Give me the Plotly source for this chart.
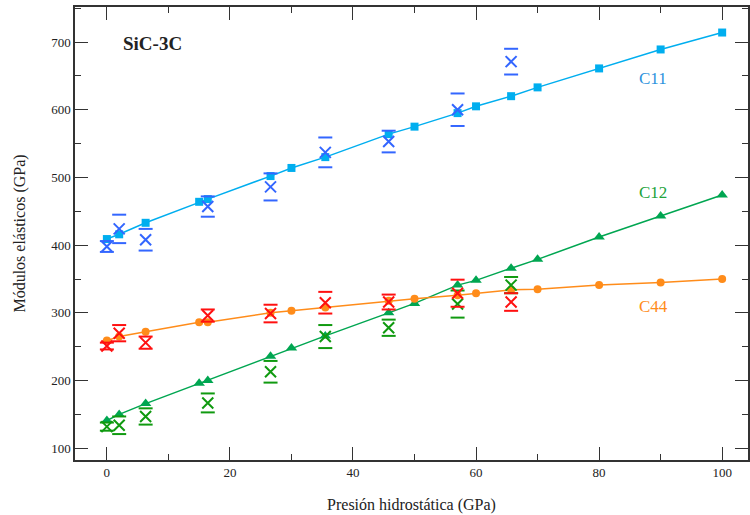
import plotly.graph_objects as go

# ---- data ----
p_calc = [0, 2, 6.3, 15, 16.4, 26.6, 30, 35.5, 45.8, 50, 57, 60, 65.7, 70, 80, 90, 100]
c11_calc = [409, 416, 433, 464, 468, 502, 514, 530, 564, 575, 595, 605, 620, 633, 661, 689, 714]
c12_calc = [141, 150, 166, 196, 200, 236, 248, 266, 300, 314, 341, 348, 366, 379, 412, 443, 474]
c44_calc = [259, 265, 272, 286, 286, 300, 303, 308, 318, 321, 326, 329, 334, 335, 341, 345, 350]

p_exp = [0, 2, 6.3, 16.4, 26.6, 35.5, 45.8, 57, 65.7]
c11_exp = [398, 424, 408, 457, 486, 537, 553, 600, 671]
c11_err = [8, 21, 16, 15, 20, 22, 16, 24, 19]
c12_exp = [132, 134, 147, 167, 213, 265, 278, 313, 341]
c12_err = [6, 13, 12, 14, 16, 17, 12, 20, 12]
c44_exp = [251, 270, 256, 296, 299, 315, 316, 329, 316]
c44_err = [5, 12, 9, 9, 13, 16, 11, 20, 13]

labels = ["C11", "C12", "C44"]

FONT = "Liberation Serif"

fig = go.Figure()

calc_specs = [
    (c11_calc, "#00AEEF", "square", 8),
    (c12_calc, "#00A651", "triangle-up", 10),
    (c44_calc, "#FF8C1A", "circle", 8),
]
for ys, col, sym, sz in calc_specs:
    fig.add_trace(go.Scatter(x=p_calc, y=ys, mode="lines+markers",
                             line=dict(color=col, width=1.5),
                             marker=dict(symbol=sym, size=sz, color=col),
                             showlegend=False, hoverinfo="skip"))

exp_specs = [
    (c11_exp, c11_err, "#3366FF"),
    (c12_exp, c12_err, "#109A10"),
    (c44_exp, c44_err, "#FF1010"),
]
for ys, errs, col in exp_specs:
    lo = [y - e for y, e in zip(ys, errs)]
    hi = [y + e for y, e in zip(ys, errs)]
    fig.add_trace(go.Scatter(x=p_exp * 2, y=lo + hi, mode="markers",
                             marker=dict(symbol="line-ew", size=10,
                                         line=dict(color=col, width=2)),
                             showlegend=False, hoverinfo="skip"))
    fig.add_trace(go.Scatter(x=p_exp, y=ys, mode="markers",
                             marker=dict(symbol="x-thin", size=11,
                                         line=dict(color=col, width=2)),
                             showlegend=False, hoverinfo="skip"))

ann = [
    ("SiC-3C", 7.4, 698, "#222222", True),
    (labels[0], 88.8, 646, "#2E93DD", False),
    (labels[1], 88.8, 478, "#22A33A", False),
    (labels[2], 88.8, 310, "#FF8C1A", False),
]
for t, x, y, c, b in ann:
    fig.add_annotation(x=x, y=y, text=f"<b>{t}</b>" if b else t, showarrow=False,
                       font=dict(family=FONT, size=19 if b else 17, color=c))

axis_common = dict(showgrid=False, zeroline=False, showline=True, linecolor="#333333",
                   linewidth=1.5, mirror="ticks", ticks="inside", tickcolor="#333333",
                   tickwidth=1.3, tickfont=dict(family=FONT, size=13, color="#222222"))

fig.update_xaxes(range=[-5.18, 104.2], tick0=0, dtick=20, ticklen=13,
                 minor=dict(dtick=10, ticks="inside", ticklen=6, tickcolor="#333333"),
                 title=dict(text="Presión hidrostática (GPa)",
                            font=dict(family=FONT, size=16, color="#222222"), standoff=19),
                 **axis_common)
fig.update_yaxes(range=[82.7, 751.7], tick0=100, dtick=100, ticklen=13,
                 minor=dict(dtick=50, ticks="inside", ticklen=6, tickcolor="#333333"),
                 title=dict(text="Módulos elásticos (GPa)",
                            font=dict(family=FONT, size=16, color="#222222"), standoff=22),
                 **axis_common)

fig.update_layout(width=750, height=515, margin=dict(l=75, r=0, t=7, b=55),
                  plot_bgcolor="white", paper_bgcolor="white")

fig.write_html("out.html")
